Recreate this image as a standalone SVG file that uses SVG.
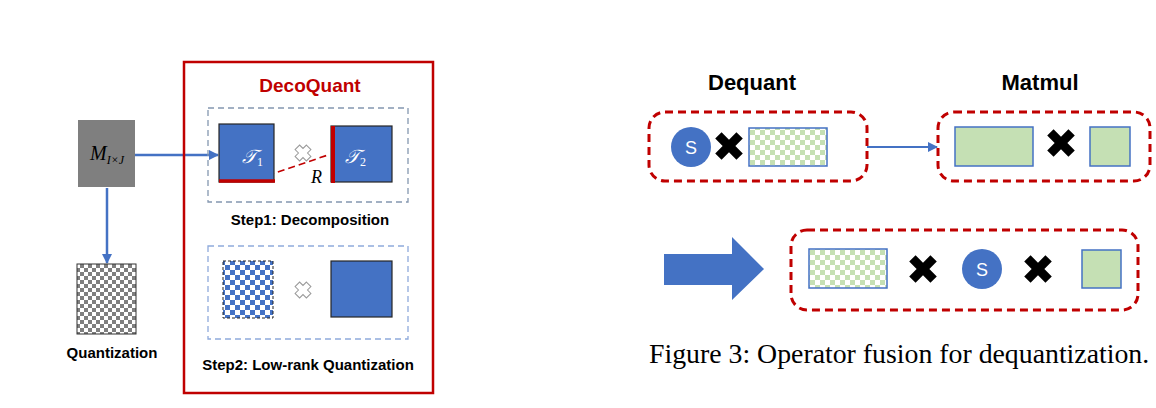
<svg xmlns="http://www.w3.org/2000/svg" width="1156" height="408" viewBox="0 0 1156 408">
<style>
.bold{font-family:"Liberation Sans",Arial,sans-serif;font-weight:bold;fill:#000}
.math{font-family:"Liberation Serif","DejaVu Serif",serif;font-style:italic}
.blk{fill:#4472c4;stroke:#262626;stroke-width:1.2}
.grn{fill:#c5e0b4;stroke:#4472c4;stroke-width:1.5}
.rdash{fill:none;stroke:#c00000;stroke-width:3;stroke-dasharray:8 5}
.conn{stroke:#4472c4;stroke-width:2.5;fill:none}
.ocross{fill:#fff;stroke:#9a9a9a;stroke-width:1}
.xcross{fill:#000}
.s{font-family:"Liberation Sans",Arial,sans-serif;font-size:18px;fill:#fff}
</style>
<defs>
<pattern id="pg" width="8" height="8" patternUnits="userSpaceOnUse">
<rect width="8" height="8" fill="#fff"/><rect width="4" height="4" fill="#7f7f7f"/><rect x="4" y="4" width="4" height="4" fill="#7f7f7f"/>
</pattern>
<pattern id="pb" width="10" height="10" patternUnits="userSpaceOnUse">
<rect width="10" height="10" fill="#fff"/><rect width="5" height="5" fill="#4472c4"/><rect x="5" y="5" width="5" height="5" fill="#4472c4"/>
</pattern>
<pattern id="pgr" width="10" height="10" patternUnits="userSpaceOnUse">
<rect width="10" height="10" fill="#fff"/><rect width="5" height="5" fill="#c5e0b4"/><rect x="5" y="5" width="5" height="5" fill="#c5e0b4"/>
</pattern>
<marker id="ah" viewBox="0 0 10 10" refX="9" refY="5" markerWidth="4" markerHeight="4" orient="auto" markerUnits="strokeWidth">
<path d="M0,0 L10,5 L0,10 z" fill="#4472c4"/>
</marker>
<marker id="ah2" viewBox="0 0 10 10" refX="9" refY="5" markerWidth="5" markerHeight="5" orient="auto" markerUnits="strokeWidth">
<path d="M0,0 L10,5 L0,10 z" fill="#4472c4"/>
</marker>
<polygon id="oc" points="-3.2,-8 3.2,-8 3.2,-3.2 8,-3.2 8,3.2 3.2,3.2 3.2,8 -3.2,8 -3.2,3.2 -8,3.2 -8,-3.2 -3.2,-3.2" transform="rotate(45)"/>
<polygon id="xc" points="-4.5,-15 4.5,-15 4.5,-4.5 15,-4.5 15,4.5 4.5,4.5 4.5,15 -4.5,15 -4.5,4.5 -15,4.5 -15,-4.5 -4.5,-4.5" transform="rotate(45)"/>
</defs>

<g id="connectors">
<line class="conn" x1="135" y1="155" x2="218" y2="155" marker-end="url(#ah)"/>
<line class="conn" x1="107" y1="188" x2="107" y2="263" marker-end="url(#ah)"/>
<line x1="867" y1="147" x2="937" y2="147" stroke="#4472c4" stroke-width="2" marker-end="url(#ah2)"/>
<line x1="257" y1="179" x2="328" y2="155" stroke="#c00000" stroke-width="1.6" stroke-dasharray="7 4"/>
</g>

<g id="matrix-m">
<rect x="78" y="120" width="57" height="67" fill="#7f7f7f"/>
<text class="math" x="90" y="160" font-size="20" fill="#000">M<tspan font-size="12" dy="4">I×J</tspan></text>
</g>

<g id="quantized">
<rect x="77" y="264" width="59" height="70" fill="url(#pg)" stroke="#333" stroke-width="1"/>
<text class="bold" x="112" y="358" font-size="15" text-anchor="middle">Quantization</text>
</g>

<g id="decoquant">
<rect x="184" y="62" width="249" height="331" fill="none" stroke="#c00000" stroke-width="2.5"/>
<text x="310" y="92" font-family="Liberation Sans,Arial,sans-serif" font-weight="bold" font-size="19" fill="#c00000" text-anchor="middle">DecoQuant</text>
</g>

<g id="step1">
<rect x="208" y="108" width="200" height="94" fill="none" stroke="#8497b0" stroke-width="1.3" stroke-dasharray="6 4"/>
<rect class="blk" x="219" y="124" width="55" height="58"/>
<rect class="blk" x="331" y="126" width="61" height="56"/>
<line x1="219" y1="181" x2="275" y2="181" stroke="#c00000" stroke-width="3.5"/>
<line x1="333" y1="126" x2="333" y2="183" stroke="#c00000" stroke-width="4"/>
<text class="math" x="242" y="163" font-size="19" fill="#fff">𝒯<tspan font-size="12" dy="3" font-style="normal">1</tspan></text>
<text class="math" x="345" y="163" font-size="19" fill="#fff">𝒯<tspan font-size="12" dy="3" font-style="normal">2</tspan></text>
<use href="#oc" x="303" y="153" class="ocross"/>
<text class="math" x="311" y="183" font-size="18" fill="#000">R</text>
<text class="bold" x="310" y="225" font-size="15" text-anchor="middle">Step1: Decomposition</text>
</g>

<g id="step2">
<rect x="208" y="246" width="200" height="93" fill="none" stroke="#8faadc" stroke-width="1.3" stroke-dasharray="6 4"/>
<rect x="223" y="261" width="50" height="57" fill="url(#pb)" stroke="#222" stroke-width="1" stroke-dasharray="3 2"/>
<rect class="blk" x="331" y="261" width="61" height="56"/>
<use href="#oc" x="303" y="290" class="ocross"/>
<text class="bold" x="308" y="370" font-size="15" text-anchor="middle">Step2: Low-rank Quantization</text>
</g>

<g id="dequant">
<text class="bold" x="752" y="90" font-size="22" text-anchor="middle">Dequant</text>
<rect class="rdash" x="649" y="112" width="218" height="69" rx="16"/>
<circle cx="691" cy="147" r="20" fill="#4472c4"/>
<text class="s" x="691" y="153.5" text-anchor="middle">S</text>
<use href="#xc" x="729" y="146" class="xcross"/>
<rect x="749" y="128" width="78" height="38" fill="url(#pgr)" stroke="#4472c4" stroke-width="1.5"/>
</g>

<g id="matmul">
<text class="bold" x="1040" y="90" font-size="22" text-anchor="middle">Matmul</text>
<rect class="rdash" x="938" y="112" width="212" height="69" rx="16"/>
<rect class="grn" x="955" y="127" width="78" height="39"/>
<use href="#xc" x="1061" y="143" class="xcross"/>
<rect class="grn" x="1090" y="127" width="40" height="39"/>
</g>

<g id="big-arrow">
<polygon points="664,254 732,254 732,237 764,269 732,300 732,285 664,285" fill="#4472c4"/>
</g>

<g id="fused">
<rect class="rdash" x="791" y="230" width="347" height="80" rx="16"/>
<rect x="809" y="249" width="78" height="39" fill="url(#pgr)" stroke="#4472c4" stroke-width="1.5"/>
<use href="#xc" x="923" y="269" class="xcross"/>
<circle cx="982" cy="269" r="20" fill="#4472c4"/>
<text class="s" x="982" y="275.5" text-anchor="middle">S</text>
<use href="#xc" x="1038" y="269" class="xcross"/>
<rect class="grn" x="1082" y="250" width="39" height="38"/>
</g>

<g id="caption">
<text x="649" y="363" font-family="Liberation Serif,Times New Roman,serif" font-size="27.8" fill="#000">Figure 3: Operator fusion for dequantization.</text>
</g>
</svg>
